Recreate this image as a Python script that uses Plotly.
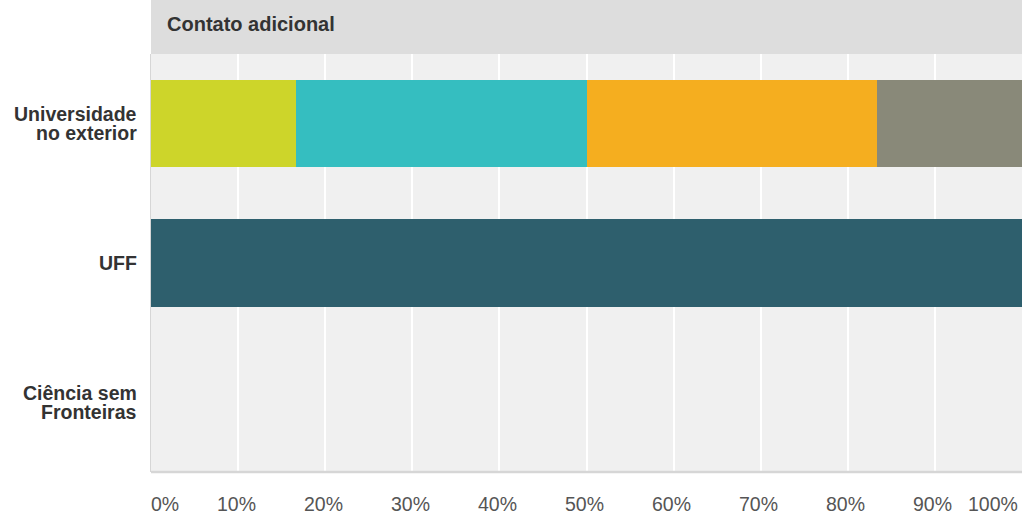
import plotly.graph_objects as go

categories = ["Universidade no exterior", "UFF", "Ciência sem Fronteiras"]
category_label_lines = [["Universidade", "no exterior"], ["UFF"], ["Ciência sem", "Fronteiras"]]
series_names = ["Opção 1", "Opção 2", "Opção 3", "Opção 4", "Opção 5"]
series_values = [
    [16.67, 0, 0],
    [33.33, 0, 0],
    [33.33, 0, 0],
    [16.67, 0, 0],
    [0, 100, 0],
]
series_colors = ["#CDD52A", "#35BEC0", "#F5AE1F", "#898979", "#2E5F6D"]
tick_values = [0, 10, 20, 30, 40, 50, 60, 70, 80, 90, 100]
tick_labels = [f"{v}%" for v in tick_values]
title_text = "Contato adicional"

FONT = "Liberation Sans, Arial, sans-serif"

fig = go.Figure()
for name, vals, col in zip(series_names, series_values, series_colors):
    fig.add_trace(go.Bar(
        y=categories, x=vals, orientation="h", name=name,
        marker=dict(color=col, line=dict(width=0)),
        hoverinfo="x+y",
    ))

W, H = 1027, 519
ml, mr, mt, mb = 151, 5, 54, 47
plot_h = H - mt - mb
plot_w = W - ml - mr

fig.update_layout(
    width=W, height=H,
    margin=dict(l=ml, r=mr, t=mt, b=mb, pad=0),
    barmode="stack", bargap=0.375,
    showlegend=False,
    paper_bgcolor="white", plot_bgcolor="#F0F0F0",
    font=dict(family=FONT, color="#333333"),
    xaxis=dict(
        range=[0, 100], tickvals=tick_values, showticklabels=False,
        showgrid=True, gridcolor="#FFFFFF", gridwidth=1.5,
        zeroline=False, showline=False, ticks="",
        fixedrange=True,
    ),
    yaxis=dict(
        categoryorder="array", categoryarray=categories, autorange="reversed",
        showgrid=False, zeroline=False, showline=True, linecolor="#D6D6D6", linewidth=1,
        ticks="", showticklabels=False,
        fixedrange=True,
    ),
)

# header band
fig.add_shape(type="rect", xref="x", yref="paper", x0=0, x1=100, y0=1, y1=1 + mt / plot_h,
              fillcolor="#DDDDDD", line=dict(width=0), layer="below")
fig.add_annotation(xref="paper", yref="paper", x=14 / plot_w, y=1 + 30 / plot_h,
                   text=f"<b>{title_text}</b>", showarrow=False, xanchor="left", yanchor="middle",
                   font=dict(size=20, color="#333333", family=FONT))
# bottom axis line
fig.add_shape(type="line", xref="x", yref="paper", x0=0, x1=100, y0=0, y1=0,
              line=dict(color="#D6D6D6", width=2.5))

# x tick labels
for v, lab in zip(tick_values, tick_labels):
    if v == tick_values[0]:
        anchor, shift = "left", -2
    elif v == tick_values[-1]:
        anchor, shift = "right", -2
    else:
        anchor, shift = "center", -2
    fig.add_annotation(xref="x", yref="paper", x=v, y=-32 / plot_h, text=lab,
                       showarrow=False, xanchor=anchor, yanchor="middle", xshift=shift,
                       font=dict(size=19.5, color="#555555", family=FONT))

# category labels, line by line (tight line spacing)
line_step = 19
for cat, lines in zip(categories, category_label_lines):
    n = len(lines)
    for i, ln in enumerate(lines):
        off = (i - (n - 1) / 2) * line_step
        fig.add_annotation(xref="paper", yref="y", x=-12 / plot_w, y=cat, text=f"<b>{ln}</b>",
                           showarrow=False, xanchor="right", yanchor="middle", yshift=-off,
                           font=dict(size=19.5, color="#333333", family=FONT))

fig.write_html("out.html")
